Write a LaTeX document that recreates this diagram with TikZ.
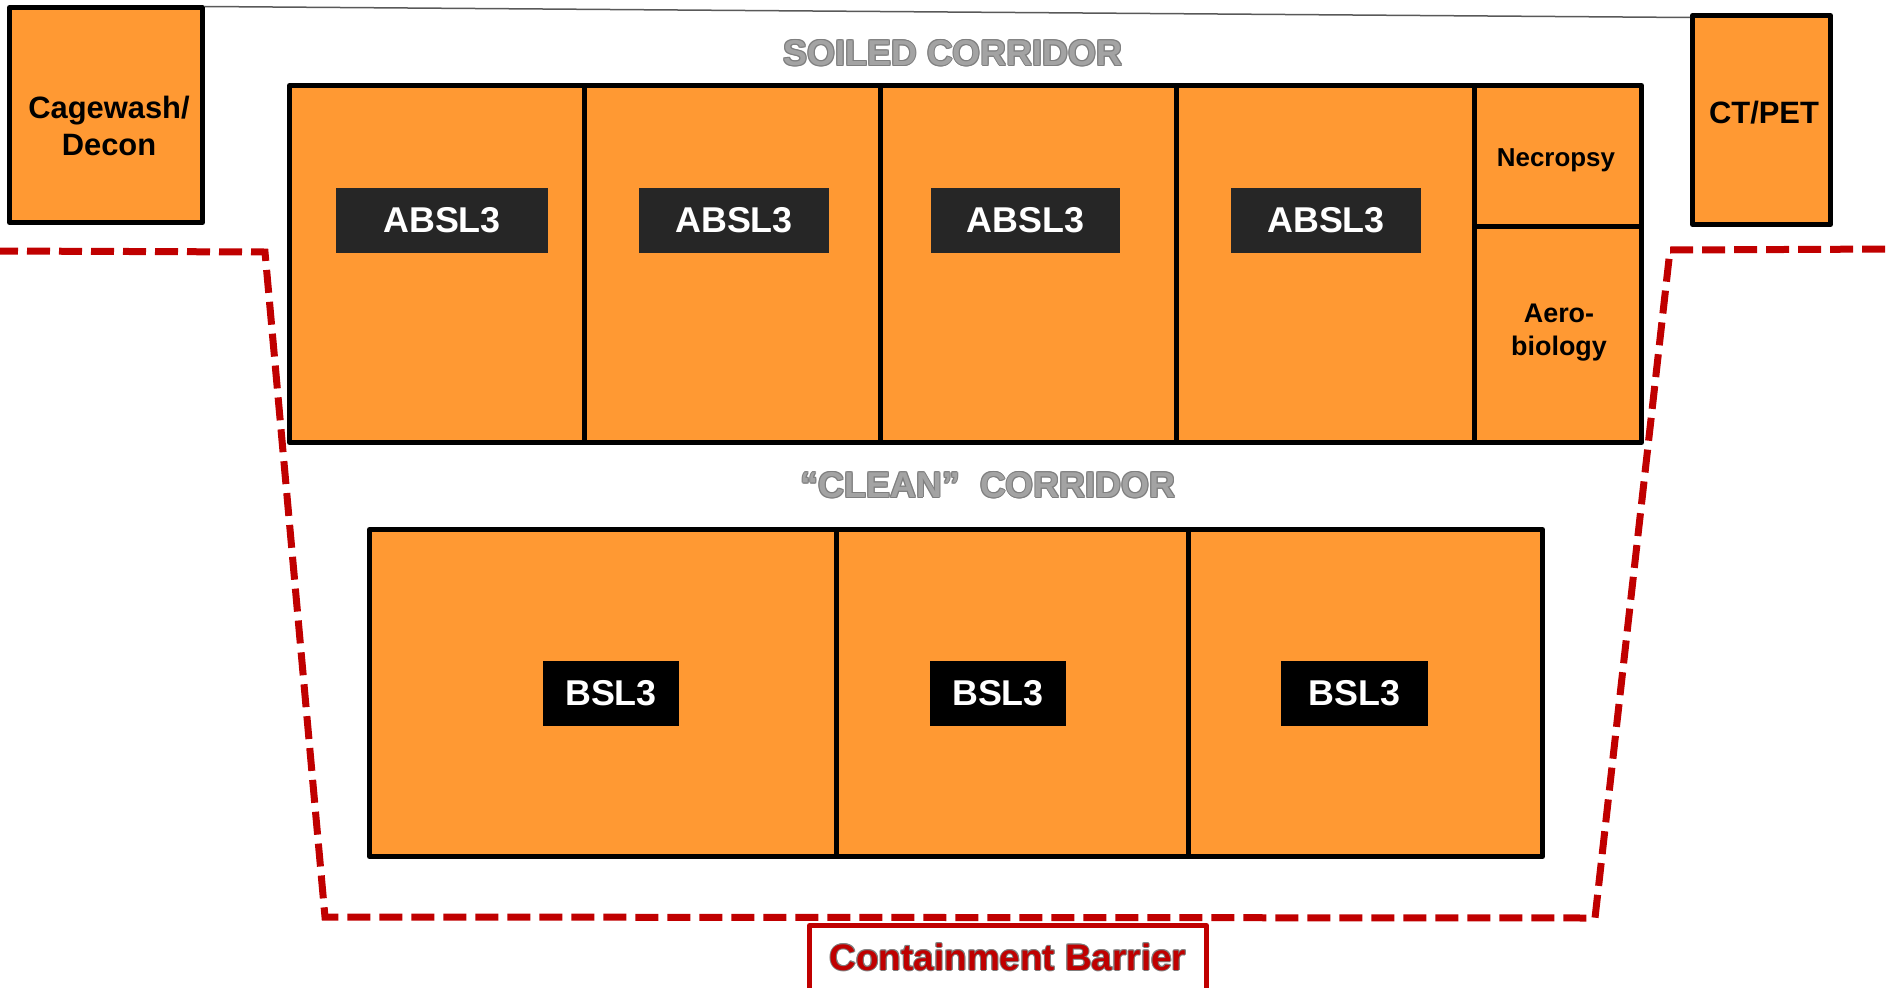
\documentclass[tikz,border=0pt]{standalone}
\usepackage{fontspec}
\setmainfont{Liberation Sans}
\definecolor{orng}{HTML}{FF9933}
\definecolor{tagdark}{HTML}{262626}
\definecolor{corrgray}{HTML}{A3A3A3}
\definecolor{corredge}{HTML}{7F7F7F}
\definecolor{barrier}{HTML}{C00000}
\definecolor{thingray}{HTML}{595959}
\newcommand\outlinedtext[3]{% #1 fill, #2 outline, #3 text
  \leavevmode
  \rlap{\color{#2}\kern1bp #3}%
  \rlap{\color{#2}\kern-1bp #3}%
  \rlap{\color{#2}\raisebox{0.9bp}{#3}}%
  \rlap{\color{#2}\raisebox{-0.9bp}{#3}}%
  \rlap{\color{#2}\kern0.7bp\raisebox{0.7bp}{#3}}%
  \rlap{\color{#2}\kern-0.7bp\raisebox{0.7bp}{#3}}%
  \rlap{\color{#2}\kern0.7bp\raisebox{-0.7bp}{#3}}%
  \rlap{\color{#2}\kern-0.7bp\raisebox{-0.7bp}{#3}}%
  {\color{#1}#3}}
\tikzset{
  room/.style={draw=black, line width=5bp, fill=orng, inner sep=0pt, line join=round},
  roomtext/.style 2 args={font=\bfseries\fontsize{#1}{#2}\selectfont, align=center, inner sep=0pt},
  tagbox/.style={fill=#1, text=white, inner sep=0pt, minimum height=65bp,
    font=\bfseries\fontsize{36}{40}\selectfont},
  corrlabel/.style={font=\bfseries\fontsize{36}{40}\selectfont, inner sep=0pt},
  barrierline/.style={draw=barrier, line width=7bp, dash pattern=on 23bp off 9bp},
}
\begin{document}
\begin{tikzpicture}[x=1bp,y=-1bp]
\useasboundingbox (0,0) rectangle (1891,987);
\clip (0,0) rectangle (1891,987);

% corner rooms
\node[room, minimum width=193bp, minimum height=215bp] (cage) at (106,115) {};
\node[roomtext={31}{37}] (cagetxt) at (109,126) {Cagewash/\\Decon};
\node[room, minimum width=138bp, minimum height=209bp] (ctpet) at (1761.5,120) {};
\node[roomtext={31}{37}] (cttxt) at (1764,113) {CT/PET};

% thin line joining them
\draw[thingray, line width=1.5bp] ([yshift=-1.5bp]cage.north east) -- ([yshift=-4.5bp]ctpet.north west);

% ABSL rooms
\node[room, minimum width=294.5bp, minimum height=357bp] (a1) at (436.75,264) {};
\node[room, minimum width=296bp, minimum height=357bp] (a2) at (732,264) {};
\node[room, minimum width=296bp, minimum height=357bp] (a3) at (1028,264) {};
\node[room, minimum width=298bp, minimum height=357bp] (a4) at (1325,264) {};
\node[room, minimum width=167.5bp, minimum height=140.5bp] (necro) at (1557.75,155.75) {};
\node[room, minimum width=167.5bp, minimum height=216.5bp] (aero) at (1557.75,334.25) {};
\node[roomtext={26}{31}] (necrotxt) at (1556,160) {Necropsy};
\node[roomtext={27}{33}] (aerotxt) at (1559,333) {Aero-\\biology};

\node[tagbox=tagdark, minimum width=212bp] (t1) at (442,220.5) {ABSL3};
\node[tagbox=tagdark, minimum width=190bp] (t2) at (734,220.5) {ABSL3};
\node[tagbox=tagdark, minimum width=189bp] (t3) at (1025.5,220.5) {ABSL3};
\node[tagbox=tagdark, minimum width=190bp] (t4) at (1326,220.5) {ABSL3};

% BSL rooms
\node[room, minimum width=466.5bp, minimum height=327bp] (b1) at (602.75,693) {};
\node[room, minimum width=352bp, minimum height=327bp] (b2) at (1012,693) {};
\node[room, minimum width=354.5bp, minimum height=327bp] (b3) at (1365.25,693) {};
\node[tagbox=black, minimum width=136bp] (s1) at (611,693.5) {BSL3};
\node[tagbox=black, minimum width=136bp] (s2) at (998,693.5) {BSL3};
\node[tagbox=black, minimum width=147bp] (s3) at (1354.5,693.5) {BSL3};

% corridor labels
\node[corrlabel] (soiled) at (953,53) {\outlinedtext{corrgray}{corredge}{SOILED CORRIDOR}};
\node[corrlabel] (clean) at (988,485) {\outlinedtext{corrgray}{corredge}{“CLEAN”\ \ CORRIDOR}};

% containment barrier
\coordinate (bl0) at (-5,251);
\coordinate (bl1) at (265,252);
\coordinate (bl2) at (325,917);
\coordinate (bl3) at (1595,918);
\coordinate (bl4) at (1670,250);
\coordinate (bl5) at (1896,249);
\draw[barrierline] (bl0) -- (bl1) -- (bl2) -- (bl3) -- (bl4) -- (bl5);

\draw[barrier, line width=5bp, line join=round] (809.5,995) |- (1206.5,925.5) -- (1206.5,995);
\node[font=\bfseries\fontsize{37}{42}\selectfont, inner sep=0pt] (cbtxt) at (1008,957) {\outlinedtext{barrier}{corredge}{Containment Barrier}};
\end{tikzpicture}
\end{document}
